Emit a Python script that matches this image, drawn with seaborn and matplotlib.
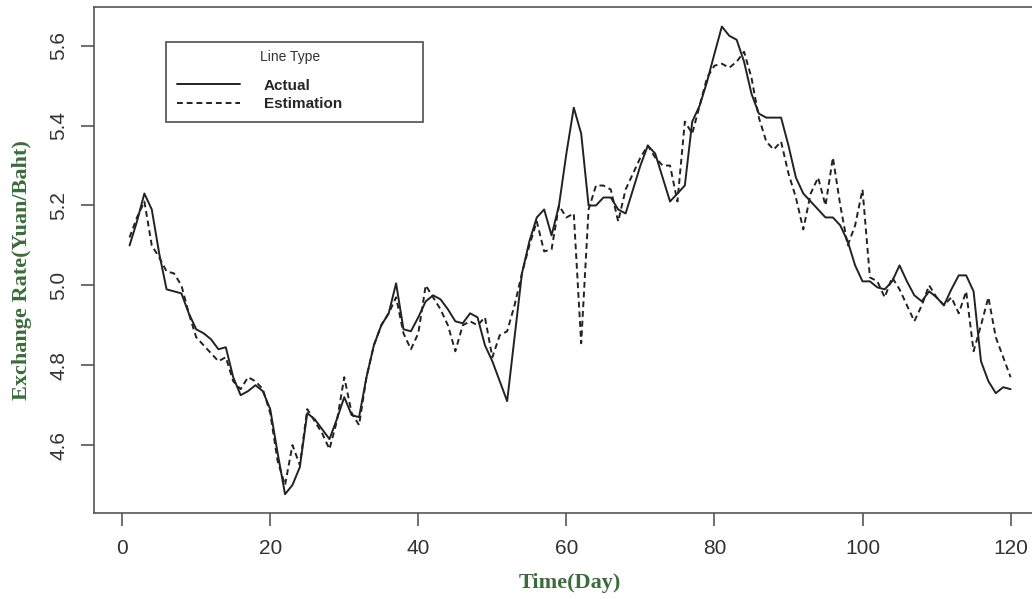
import numpy as np
import pandas as pd
import matplotlib
matplotlib.use('Agg')
import matplotlib.pyplot as plt
import seaborn as sns

# Daily exchange rate, actual vs model estimation
days = list(range(1, 121))
actual = [
    5.10, 5.16, 5.23, 5.19, 5.08, 4.99, 4.985, 4.98, 4.93, 4.89,
    4.88, 4.865, 4.84, 4.845, 4.77, 4.725, 4.735, 4.75, 4.735, 4.69,
    4.58, 4.477, 4.50, 4.545, 4.68, 4.665, 4.64, 4.615, 4.665, 4.72,
    4.675, 4.67, 4.77, 4.85, 4.90, 4.93, 5.005, 4.89, 4.885, 4.92,
    4.96, 4.975, 4.965, 4.94, 4.91, 4.905, 4.93, 4.92, 4.85, 4.81,
    4.76, 4.71, 4.87, 5.03, 5.11, 5.17, 5.19, 5.125, 5.20, 5.33,
    5.445, 5.38, 5.20, 5.20, 5.22, 5.22, 5.19, 5.18, 5.24, 5.30,
    5.35, 5.33, 5.27, 5.21, 5.23, 5.25, 5.41, 5.45, 5.51, 5.58,
    5.648, 5.625, 5.615, 5.56, 5.48, 5.43, 5.42, 5.42, 5.42, 5.35,
    5.27, 5.23, 5.21, 5.19, 5.17, 5.17, 5.15, 5.11, 5.05, 5.01,
    5.01, 4.995, 4.99, 5.01, 5.05, 5.01, 4.975, 4.96, 4.985, 4.97,
    4.95, 4.99, 5.025, 5.025, 4.985, 4.81, 4.76, 4.73, 4.745, 4.74,
]
estimation = [
    5.12, 5.17, 5.21, 5.10, 5.07, 5.035, 5.03, 5.00, 4.93, 4.87,
    4.85, 4.83, 4.81, 4.82, 4.76, 4.74, 4.77, 4.76, 4.74, 4.68,
    4.56, 4.50, 4.60, 4.55, 4.69, 4.66, 4.63, 4.59, 4.66, 4.77,
    4.68, 4.65, 4.77, 4.85, 4.90, 4.93, 4.97, 4.88, 4.84, 4.88,
    5.00, 4.97, 4.94, 4.90, 4.835, 4.90, 4.91, 4.90, 4.92, 4.82,
    4.875, 4.885, 4.95, 5.03, 5.10, 5.16, 5.085, 5.09, 5.20, 5.17,
    5.18, 4.855, 5.19, 5.25, 5.25, 5.24, 5.16, 5.24, 5.28, 5.32,
    5.35, 5.32, 5.30, 5.30, 5.21, 5.41, 5.38, 5.45, 5.52, 5.55,
    5.555, 5.545, 5.56, 5.585, 5.52, 5.42, 5.36, 5.34, 5.36, 5.28,
    5.22, 5.14, 5.23, 5.27, 5.20, 5.32, 5.20, 5.10, 5.15, 5.24,
    5.02, 5.01, 4.97, 5.02, 4.99, 4.95, 4.91, 4.95, 5.00, 4.97,
    4.95, 4.97, 4.93, 4.985, 4.835, 4.90, 4.97, 4.87, 4.82, 4.77,
]
x_ticks = [0, 20, 40, 60, 80, 100, 120]
y_ticks = [4.6, 4.8, 5.0, 5.2, 5.4, 5.6]
y_tick_labels = ['4.6', '4.8', '5.0', '5.2', '5.4', '5.6']

df = pd.DataFrame({'Day': days, 'Actual': actual, 'Estimation': estimation})
long_df = df.melt(id_vars='Day', var_name='Line Type', value_name='Rate')

sns.set_style('white')
plt.rcParams['font.family'] = ['Liberation Sans', 'DejaVu Sans']

fig = plt.figure(figsize=(10.32, 5.99), dpi=100)
ax = fig.add_axes([0.0914, 0.1436, 0.922, 0.8447])

sns.lineplot(data=long_df, x='Day', y='Rate', style='Line Type',
             dashes={'Actual': '', 'Estimation': (3, 2)},
             color='#222222', linewidth=1.4, ax=ax)

ax.set_xlim(-3.76, 124.76)
ax.set_ylim(4.43, 5.697)
ax.set_xticks(x_ticks)
ax.set_xticklabels([str(t) for t in x_ticks])
ax.set_yticks(y_ticks)
ax.set_yticklabels(y_tick_labels, rotation=90, va='center')

for s in ax.spines.values():
    s.set_color('#555555')
    s.set_linewidth(1.2)
ax.tick_params(axis='both', direction='out', length=9.5, width=1.2,
               color='#555555', labelsize=15, labelcolor='#333333',
               bottom=True, left=True)
ax.tick_params(axis='x', pad=9)
ax.tick_params(axis='y', pad=9)

label_font = dict(family='Liberation Serif', weight='bold', size=16, color='#3d6b3d')
ax.set_xlabel('Time(Day)', va='center', **label_font)
ax.set_ylabel('Exchange Rate(Yuan/Baht)', va='center', **label_font)
ax.xaxis.set_label_coords(0.5, -0.138)
ax.yaxis.set_label_coords(-0.076, 0.48)

# legend: blank title reserves the room, "Line Type" sits above the entry texts
handles, labels = ax.get_legend_handles_labels()
keep = [(h, l) for h, l in zip(handles, labels) if l in ('Actual', 'Estimation')]
leg = ax.legend([h for h, _ in keep], [l for _, l in keep], title=' ',
                loc='upper left', bbox_to_anchor=(0.0753, 0.771, 0.27, 0.16),
                mode='expand', borderaxespad=0, frameon=True, fancybox=False,
                handlelength=4.1, handletextpad=1.6, labelspacing=0.3,
                borderpad=0.72, prop={'weight': 'bold', 'size': 11},
                title_fontsize=15.5)
leg.get_frame().set_edgecolor('#333333')
leg.get_frame().set_linewidth(1.3)
ax.text(0.1741, 0.901, 'Line Type', transform=ax.transAxes, fontsize=10,
        color='#333333', ha='left', va='center', zorder=10)

fig.savefig('out.png', dpi=100)
